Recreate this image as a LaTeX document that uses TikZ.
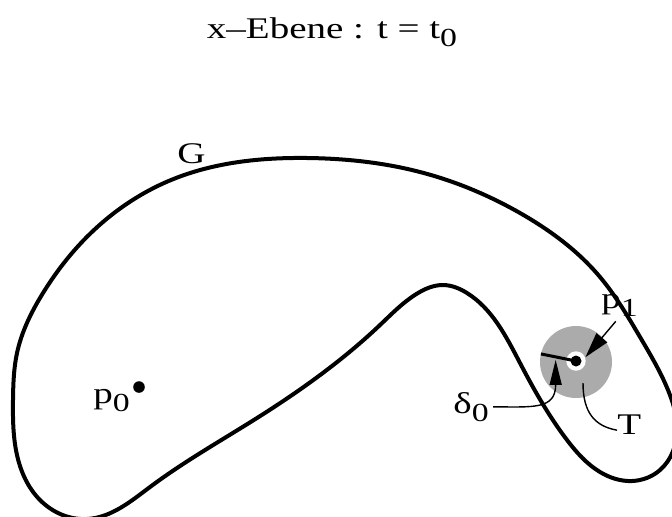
\documentclass[tikz,border=0pt]{standalone}
\usepackage{fontspec}
\setmainfont{Liberation Serif}[FakeStretch=1.3]
\usetikzlibrary{arrows.meta, calc, hobby}

% lowered, nearly full size index
\newcommand{\idx}[1]{\raisebox{-0.28em}{\fontsize{13}{15}\selectfont #1}}

\begin{document}
\begin{tikzpicture}[x=0.5pt, y=-0.5pt,
  lbl/.style={anchor=base west, inner sep=0pt,
    font=\fontsize{15}{18}\selectfont},
  border/.style={line width=2pt, line join=round},
  leader/.style={line width=0.7pt},
  dot/.style={circle, fill=black, inner sep=0pt, minimum size=5.8pt}]
  \useasboundingbox (0,0) rectangle (672,516);

  \node[lbl, anchor=base] (title) at (332,38) {x–Ebene : t = t\idx{0}};

  % domain G, cut by the page edge
  \begin{scope}
    \clip (0,0) rectangle (672,516);
    \draw[border, use Hobby shortcut, closed=true]
      (308,158) .. (420,172) .. (520,213) .. (600,277) .. (640,337)
      .. (668,390) .. (677,430) .. (660,470) .. (632,481) .. (600,472)
      .. (567,440) .. (520,363) .. (467,293) .. (443,285) .. (418,293)
      .. (380,325) .. (257,418) .. (150,487) .. (87,519) .. (40,500)
      .. (17,455) .. (13,400) .. (17,353) .. (43,293) .. (81,243)
      .. (171,180);
  \end{scope}
  \node[lbl] (lblG) at (177,163) {G};

  % point p0
  \node[dot] (p0) at (139,387) {};
  \node[lbl] (lblP0) at (93,403) {p\idx{0}};

  % ball T round p1
  \node[circle, fill=black!33, inner sep=0pt, outer sep=0pt,
    minimum size=36pt] (T) at (576,362) {};
  \node[circle, fill=white, inner sep=0pt, minimum size=9.7pt]
    (ring) at (576,361) {};
  \coordinate (rim) at (T.167);
  \draw[line width=1.5pt] (rim) -- (ring.center);
  \node[dot, minimum size=5.5pt] (p1) at (576,361) {};

  % labels with leaders
  \node[lbl] (lblP1) at (601,308) {p\idx{1}};
  \draw[leader, -{Triangle[length=12.8pt, width=7pt]},
    shorten <=3pt] (lblP1.south) -- (ring.22);

  \node[lbl] (lblD) at (453,413) {δ\idx{0}};
  \coordinate (dtip) at ($(rim)!0.42!(p1)+(0,3)$);
  \draw[leader, -{Triangle[length=12.5pt, width=6pt]}]
    ([xshift=2pt]lblD.east) .. controls +(40,0) and +(0,50) .. (dtip);

  \node[lbl] (lblT) at (617,434) {T};
  \coordinate (tfrom) at ($(T.center)+(7,21)$);
  \draw[leader] (tfrom) .. controls +(0,30) and +(-22,-4)
    .. ([yshift=-3pt]lblT.west);
\end{tikzpicture}
\end{document}
